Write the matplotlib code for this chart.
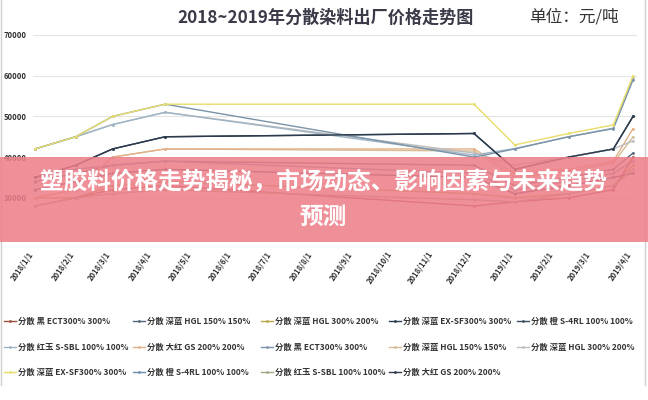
import matplotlib
matplotlib.use('Agg')
import matplotlib.pyplot as plt
import matplotlib.dates as mdates
from matplotlib.lines import Line2D
from matplotlib.patches import Rectangle
import matplotlib.transforms as mtransforms
import datetime as dt

plt.rcParams['font.family'] = ['Noto Sans CJK SC', 'DejaVu Sans']

# ---------------- data ----------------
dates = ['2018-01-01', '2018-02-01', '2018-03-01', '2018-04-10', '2018-12-01',
         '2019-01-01', '2019-02-11', '2019-03-17', '2019-04-01']

tick_labels = ['2018/1/1', '2018/2/1', '2018/3/1', '2018/4/1', '2018/5/1', '2018/6/1',
               '2018/7/1', '2018/8/1', '2018/9/1', '2018/10/1', '2018/11/1', '2018/12/1',
               '2019/1/1', '2019/2/1', '2019/3/1', '2019/4/1']

y_ticks = [30000, 40000, 50000, 60000, 70000]

series_names = ['分散 黑 ECT300% 300%', '分散 深蓝 HGL 150% 150%', '分散 深蓝 HGL 300% 200%',
                '分散 深蓝 EX-SF300% 300%', '分散 橙 S-4RL 100% 100%', '分散 红玉 S-SBL 100% 100%',
                '分散 大红 GS 200% 200%',
                '分散 黑 ECT300% 300%', '分散 深蓝 HGL 150% 150%', '分散 深蓝 HGL 300% 200%',
                '分散 深蓝 EX-SF300% 300%', '分散 橙 S-4RL 100% 100%', '分散 红玉 S-SBL 100% 100%',
                '分散 大红 GS 200% 200%']

s01 = [28000, 30000, 32000, 33000, 28000, 29000, 30000, 32000, 40000]
s02 = [34000, 36000, 38000, 39000, 38000, 33000, 35000, 37000, 41000]
s03 = [30000, 30000, 33000, 34000, 31000, 30000, 31000, 33000, 38000]
s04 = [35000, 38000, 42000, 45000, 45800, 37000, 40000, 42000, 50000]
s05 = [32000, 34000, 36000, 37000, 35000, 31000, 33000, 35000, 36000]
s06 = [42000, 45000, 48000, 51000, 40500, 42100, 45000, 47100, 59500]
s07 = [30000, 32000, 40000, 42000, 42000, 36000, 37000, 39000, 47000]
s08 = [42000, 45000, 50000, 53000, 40000, 42000, 45000, 47000, 59000]
s09 = [30000, 32000, 40000, 42000, 41500, 35000, 36500, 38500, 45000]
s10 = [42000, 45000, 48000, 51000, 41000, 38000, 40000, 42000, 44000]
s11 = [42000, 45000, 50000, 53000, 53000, 43000, 45800, 47900, 60000]
s12 = [35000, 37000, 38000, 39000, 36000, 32000, 34000, 36000, 39000]
s13 = [28000, 30000, 31000, 32000, 29500, 29000, 31000, 33000, 37000]
s14 = [35000, 38000, 42000, 45000, 45800, 37000, 40000, 42000, 50000]
series_values = [s01, s02, s03, s04, s05, s06, s07, s08, s09, s10, s11, s12, s13, s14]

title = '2018~2019年分散染料出厂价格走势图'
unit_text = '单位：元/吨'
banner_line1 = '塑胶料价格走势揭秘，市场动态、影响因素与未来趋势'
banner_line2 = '预测'

# ---------------- style ----------------
colors = ['#9f4f3e', '#55667a', '#b7a64c', '#2b3b4d', '#3e4e60', '#9fb5c6', '#e3b088',
          '#7a93a8', '#d5bd96', '#bdbdbd', '#e8dd6a', '#6d8dac', '#a6a588', '#2e3b4c']
draw_order = [1, 13, 2, 4, 11, 0, 8, 6, 9, 5, 7, 12, 3, 10]

W, H = 648, 400
fig = plt.figure(figsize=(W / 100, H / 100), dpi=100)
fig.patch.set_facecolor('white')

ax_left, ax_right, ax_top, ax_bot = 33, 637, 35, 238.5
ax = fig.add_axes([ax_left / W, 1 - ax_bot / H, (ax_right - ax_left) / W, (ax_bot - ax_top) / H])

x = mdates.date2num([dt.datetime.strptime(d, '%Y-%m-%d') for d in dates])
for k in draw_order:
    ax.plot(x, series_values[k], color=colors[k], lw=1.0, marker='o', ms=2.0,
            markeredgewidth=0, zorder=3)

tick_dates = [dt.datetime.strptime(t, '%Y/%m/%d') for t in tick_labels]
tx = mdates.date2num(tick_dates)
ax.set_xlim(tx[0] - 1.5, tx[-1] + 3)
ax.set_ylim(20000, 70000)
ax.set_yticks(y_ticks)
ax.set_yticklabels([str(v) for v in y_ticks], fontsize=5.5, fontweight='bold', color='#333333')
ax.set_xticks(tx)
ax.set_xticklabels(tick_labels, rotation=55, ha='right', va='top',
                   fontsize=5.5, fontweight='bold', color='#333333')
offset = mtransforms.ScaledTranslation(3 / 100, -2 / 100, fig.dpi_scale_trans)
for lab in ax.get_xticklabels():
    lab.set_transform(lab.get_transform() + offset)
ax.tick_params(axis='both', length=0)
ax.tick_params(axis='x', pad=8)
ax.tick_params(axis='y', pad=4.3)
ax.yaxis.grid(True, color='#e4e4e4', lw=0.8)
ax.set_axisbelow(True)
for sp in ax.spines.values():
    sp.set_visible(False)

# legends: 5 columns, row-major order
col_x = [4, 133, 261, 389, 517]
for c in range(5):
    idx = [i for i in (c, c + 5, c + 10) if i < len(series_names)]
    handles = [Line2D([], [], color=colors[i], lw=1.0, marker='o', ms=2.0, markeredgewidth=0)
               for i in idx]
    labels = [series_names[i] for i in idx]
    fig.legend(handles, labels, loc='upper left', bbox_to_anchor=(col_x[c] / W, 1 - 317 / H),
               frameon=False, handlelength=1.4, handletextpad=0.3,
               labelspacing=2.0, borderpad=0, borderaxespad=0,
               prop={'size': 6.0, 'weight': 'bold'}, labelcolor='#333333')

# titles
fig.text(326 / W, 1 - 18 / H, title, ha='center', va='center', fontsize=12.3,
         fontweight='bold', color='#3a3a48')
fig.text(529 / W, 1 - 17 / H, unit_text, ha='left', va='center', fontsize=12, color='#333333')

# frame lines
for xp in (1, 645):
    fig.add_artist(Line2D([xp / W, xp / W], [1 - 385 / H, 1], color='#cfcfcf', lw=1,
                          transform=fig.transFigure))

# banner overlay
fig.patches.append(Rectangle((0, 1 - 242 / H), 1, (242 - 157) / H, transform=fig.transFigure,
                             facecolor='#ED7E89', edgecolor='none', alpha=0.86, zorder=10))
fig.text(323.5 / W, 1 - 182.5 / H, banner_line1, ha='center', va='center', fontsize=17,
         fontweight='bold', color='white', zorder=11)
fig.text(323.5 / W, 1 - 217 / H, banner_line2, ha='center', va='center', fontsize=17,
         fontweight='bold', color='white', zorder=11)

fig.savefig('out.png', dpi=100, facecolor='white')
